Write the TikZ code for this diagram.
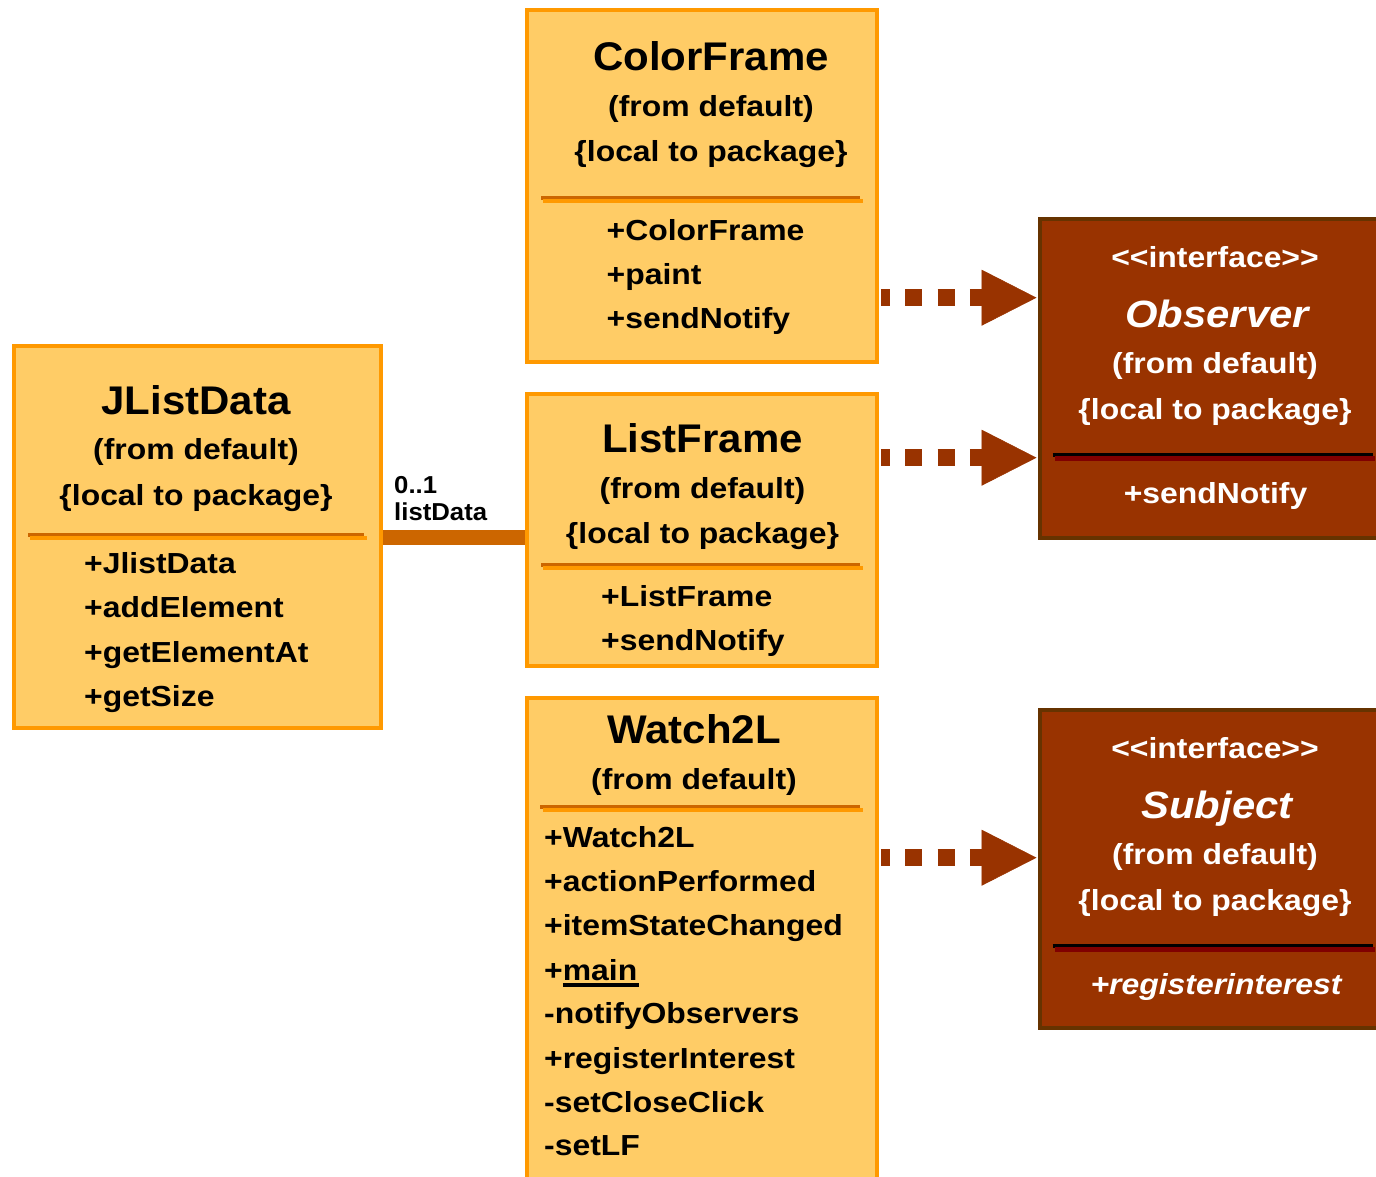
\documentclass[tikz,border=0pt]{standalone}
\usepackage{fontspec}
\newfontfamily\bodyf{Liberation Sans}[FakeStretch=1.1]
\newfontfamily\titlef{Liberation Sans}[FakeStretch=1.05]
\usetikzlibrary{arrows.meta}
\definecolor{yfill}{HTML}{FFCC66}
\definecolor{orng}{HTML}{FF9900}
\definecolor{dorng}{HTML}{CC6600}
\definecolor{brwn}{HTML}{993300}
\definecolor{dbrwn}{HTML}{663300}
\definecolor{dred}{HTML}{800000}
\pgfdeclarelayer{bg}
\pgfsetlayers{bg,main}
\tikzset{
  ybox/.style={rectangle, draw=orng, fill=yfill, line width=4pt, inner sep=0pt},
  ibox/.style={rectangle, draw=dbrwn, fill=brwn, line width=4pt, inner sep=0pt},
  ttl/.style={anchor=base, inner sep=0pt, font=\titlef\bfseries\fontsize{40}{48}\selectfont},
  bod/.style={anchor=base, inner sep=0pt, font=\bodyf\bfseries\fontsize{29}{34}\selectfont},
  meth/.style={bod, anchor=base west},
  wht/.style={text=white},
  ititle/.style={anchor=base, inner sep=0pt, text=white, font=\bodyf\bfseries\itshape\fontsize{38}{44}\selectfont},
  ysepA/.style={draw=dorng, line width=4pt},
  ysepB/.style={draw=orng, line width=4pt},
  isepA/.style={draw=black, line width=4pt},
  isepB/.style={draw=dred, line width=4.5pt},
  dep/.style={draw=brwn, line width=17pt, dash pattern=on 17pt off 15.3pt, dash phase=8pt,
    shorten <=2pt, shorten >=1pt, -{Triangle[length=55pt,width=56pt,line width=0.5pt]}},
  assoc/.style={draw=dorng, line width=15pt}
}
\begin{document}
\begin{tikzpicture}[x=1pt,y=-1pt]
\path[use as bounding box] (0,0) rectangle (1376,1176);
\clip (0,0) rectangle (1376,1176);

% boxes
\node[ybox, minimum width=350pt, minimum height=351.5pt] (cf) at (702,185.75) {};
\node[ybox, minimum width=367pt, minimum height=382pt] (jl) at (197.5,537) {};
\node[ybox, minimum width=350pt, minimum height=272pt] (lf) at (702,530) {};
\node[ybox, minimum width=350pt, minimum height=502pt] (w2) at (702,949) {};
\node[ibox, minimum width=360.5pt, minimum height=319pt] (obs) at (1219.75,378) {};
\node[ibox, minimum width=360.5pt, minimum height=318.5pt] (sub) at (1219.75,868.75) {};

% helper coordinates for connector heights
\coordinate (ya) at (0,537.5);
\coordinate (y1) at (0,297.7);
\coordinate (y2) at (0,457.7);
\coordinate (y3) at (0,857.7);

\begin{pgfonlayer}{bg}
\draw[assoc] (jl.east |- ya) -- (lf.west |- ya);
\draw[dep] (cf.east |- y1) -- (obs.west |- y1);
\draw[dep] (lf.east |- y2) -- (obs.west |- y2);
\draw[dep] (w2.east |- y3) -- (obs.west |- y3);
\end{pgfonlayer}

% association label
\node[anchor=base west, inner sep=0pt, align=left, font=\titlef\bfseries\fontsize{24.5}{26.7}\selectfont] (ml) at (394,520) {0..1\\listData};

% ColorFrame
\node[ttl] (cft) at (711,70) {ColorFrame};
\node[bod] (cfa) at (711,116) {(from default)};
\node[bod] (cfb) at (711,161) {\{local to package\}};
\draw[ysepA] (541,197.5) -- (860,197.5);
\draw[ysepB] (543,201) -- (863,201);
\node[meth] (cfm1) at (606.5,240) {+ColorFrame};
\node[meth] (cfm2) at (606.5,284) {+paint};
\node[meth] (cfm3) at (606.5,328) {+sendNotify};

% JListData
\node[ttl] (jlt) at (196,414) {JListData};
\node[bod] (jla) at (196,459) {(from default)};
\node[bod] (jlb) at (196,505) {\{local to package\}};
\draw[ysepA] (28,534.5) -- (364,534.5);
\draw[ysepB] (30,538) -- (366.5,538);
\node[meth] (jlm1) at (84,573) {+JlistData};
\node[meth] (jlm2) at (84,617.5) {+addElement};
\node[meth] (jlm3) at (84,662) {+getElementAt};
\node[meth] (jlm4) at (84,706) {+getSize};

% ListFrame
\node[ttl] (lft) at (702.5,452) {ListFrame};
\node[bod] (lfa) at (702.5,498) {(from default)};
\node[bod] (lfb) at (702.5,543) {\{local to package\}};
\draw[ysepA] (541,564.5) -- (860,564.5);
\draw[ysepB] (543,568) -- (863,568);
\node[meth] (lfm1) at (601,606) {+ListFrame};
\node[meth] (lfm2) at (601,650) {+sendNotify};

% Watch2L
\node[ttl] (w2t) at (694,743) {Watch2L};
\node[bod] (w2a) at (694,789) {(from default)};
\draw[ysepA] (540,806.5) -- (860,806.5);
\draw[ysepB] (543,810) -- (863,810);
\node[meth] (w2m1) at (544,847) {+Watch2L};
\node[meth] (w2m2) at (544,891) {+actionPerformed};
\node[meth] (w2m3) at (544,935) {+itemStateChanged};
\node[meth] (w2m4) at (544,980) {+\makebox[0pt][l]{\rule[-7pt]{76pt}{4pt}}main};
\node[meth] (w2m5) at (544,1023) {-notifyObservers};
\node[meth] (w2m6) at (544,1068) {+registerInterest};
\node[meth] (w2m7) at (544,1112) {-setCloseClick};
\node[meth] (w2m8) at (544,1155) {-setLF};

% Observer
\node[bod, wht] (obi) at (1215,267) {<\kern0pt<interface>\kern0pt>};
\node[ititle] (obt) at (1217,327) {Observer};
\node[bod, wht] (oba) at (1215,373) {(from default)};
\node[bod, wht] (obb) at (1215,419) {\{local to package\}};
\draw[isepA] (1052.7,454.5) -- (1372.7,454.5);
\draw[isepB] (1055,458.5) -- (1375,458.5);
\node[bod, wht] (obm1) at (1215.5,503) {+sendNotify};

% Subject
\node[bod, wht] (sbi) at (1215,758) {<\kern0pt<interface>\kern0pt>};
\node[ititle] (sbt) at (1217,818) {Subject};
\node[bod, wht] (sba) at (1215,864) {(from default)};
\node[bod, wht] (sbb) at (1215,910) {\{local to package\}};
\draw[isepA] (1052.7,945.5) -- (1372.7,945.5);
\draw[isepB] (1055,949.5) -- (1375,949.5);
\node[bod, wht, font=\bodyf\bfseries\itshape\fontsize{29}{34}\selectfont] (sbm1) at (1216,994) {+registerinterest};
\end{tikzpicture}
\end{document}
